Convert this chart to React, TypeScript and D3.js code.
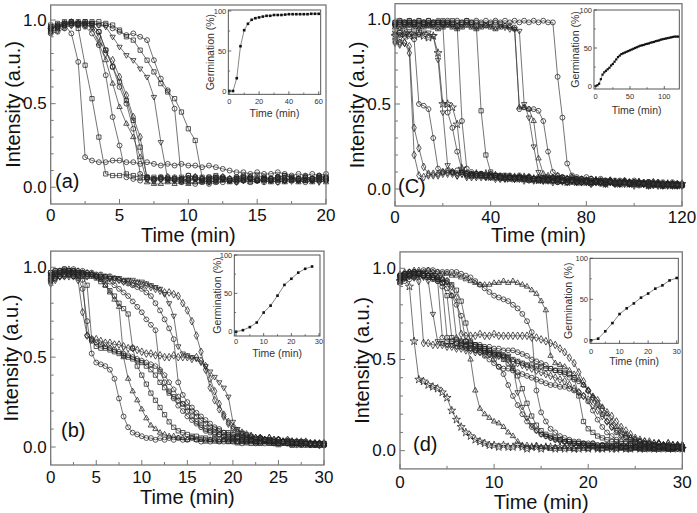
import React from "react";
import * as d3 from "d3";

const FONT = "'Liberation Sans', Arial, Helvetica, sans-serif";

// ---------------- Panel (a): sampling every 0.5 min ----------------
const timeA = d3.range(0, 20.0001, 0.5);
const a1 = [0.95,0.96,0.97,0.92,0.75,0.18,0.16,0.15,0.15,0.16, 0.16,0.15,0.15,0.14,0.15,0.14,0.13,0.14,0.13,0.14, 0.13,0.13,0.12,0.13,0.12,0.11,0.10,0.09,0.09,0.08, 0.09,0.08,0.08,0.09,0.08,0.07,0.08,0.07,0.08,0.07, 0.08];
const a2 = [0.93,0.95,0.97,0.98,0.95,0.73,0.53,0.30,0.08,0.07, 0.07,0.08,0.07,0.06,0.06,0.05,0.06,0.05,0.05,0.04, 0.05,0.05,0.04,0.05,0.06,0.05,0.04,0.05,0.06,0.05, 0.04,0.05,0.05,0.06,0.04,0.05,0.05,0.04,0.05,0.06, 0.05];
const a3 = [0.94,0.96,0.98,0.98,0.97,0.96,0.92,0.85,0.67,0.42, 0.25,0.06,0.05,0.04,0.05,0.04,0.05,0.04,0.04,0.03, 0.04,0.05,0.04,0.03,0.04,0.05,0.04,0.05,0.04,0.05, 0.04,0.03,0.04,0.05,0.04,0.05,0.04,0.03,0.04,0.05, 0.04];
const a4 = [0.96,0.97,0.98,0.99,0.98,0.98,0.95,0.86,0.76,0.62, 0.48,0.38,0.30,0.18,0.03,0.02,0.02,0.03,0.02,0.03, 0.02,0.03,0.03,0.04,0.03,0.04,0.03,0.04,0.04,0.03, 0.04,0.04,0.03,0.04,0.03,0.04,0.03,0.04,0.03,0.04, 0.03];
const a5 = [0.97,0.98,0.99,0.99,0.98,0.99,0.98,0.93,0.82,0.72, 0.63,0.52,0.40,0.24,0.06,0.06,0.05,0.06,0.05,0.06, 0.07,0.06,0.05,0.06,0.07,0.06,0.05,0.06,0.05,0.06, 0.07,0.06,0.05,0.06,0.07,0.06,0.05,0.06,0.05,0.06, 0.06];
const a6 = [0.92,0.93,0.95,0.97,0.97,0.97,0.97,0.93,0.82,0.72, 0.60,0.50,0.35,0.08,0.06,0.05,0.06,0.05,0.06,0.05, 0.07,0.06,0.05,0.06,0.05,0.06,0.05,0.06,0.07,0.06, 0.05,0.06,0.05,0.06,0.07,0.06,0.05,0.06,0.05,0.07, 0.06];
const a7 = [0.95,0.96,0.97,0.98,0.98,0.98,0.98,0.97,0.96,0.90, 0.84,0.79,0.76,0.71,0.66,0.54,0.27,0.05,0.04,0.05, 0.04,0.05,0.04,0.03,0.04,0.05,0.04,0.03,0.04,0.05, 0.04,0.05,0.04,0.03,0.04,0.05,0.04,0.05,0.04,0.03, 0.04];
const a8 = [0.95,0.96,0.97,0.98,0.98,0.98,0.98,0.97,0.97,0.95, 0.93,0.91,0.92,0.90,0.88,0.76,0.65,0.58,0.47,0.05, 0.03,0.02,0.03,0.02,0.03,0.03,0.04,0.03,0.04,0.03, 0.04,0.05,0.04,0.03,0.04,0.05,0.04,0.05,0.04,0.05, 0.04];
const a9 = [0.96,0.97,0.98,0.99,0.99,0.99,0.99,0.99,0.98,0.97, 0.94,0.90,0.88,0.82,0.76,0.69,0.62,0.57,0.53,0.45, 0.35,0.28,0.06,0.05,0.06,0.05,0.04,0.05,0.06,0.05, 0.04,0.05,0.04,0.05,0.06,0.04,0.05,0.04,0.05,0.06, 0.05];
const a10 = [0.93,0.94,0.96,0.97,0.98,0.97,0.96,0.90,0.80,0.76, 0.66,0.55,0.42,0.30,0.05,0.04,0.05,0.06,0.05,0.04, 0.05,0.06,0.05,0.04,0.05,0.06,0.05,0.04,0.05,0.06, 0.05,0.04,0.05,0.06,0.05,0.04,0.05,0.06,0.05,0.04, 0.05];
const seriesA = [a1, a2, a3, a4, a5, a6, a7, a8, a9, a10];
const shapesA = ["circle", "square", "circle", "triangle", "square", "circle", "triangleDown", "circle", "square", "diamond"];
const ticksA = [0, 5, 10, 15, 20];
const insetTimeA = [0,2.5,5,7.5,10,12.5,15,17.5,20,22.5,25,27.5,30,32.5,35,37.5,40,42.5,45,47.5,50,52.5,55,57.5,60];
const insetGermA = [0,0,16,56,76,84,89,91,92,93,94,94,95,95,95,95.5,96,96,96,96,96,96,96.5,96.5,96.5];

// ---------------- Panel (b): sampling every 0.5 min ----------------
const timeB = d3.range(0, 30.0001, 0.5);
const b1 = [0.93,0.95,0.96,0.95,0.96,0.95,0.94,0.88,0.70,0.52, 0.47,0.46,0.45,0.43,0.38,0.27,0.17,0.11,0.08,0.07, 0.06,0.05,0.05,0.04,0.05,0.04,0.05,0.04,0.05,0.04, 0.04,0.05,0.04,0.03,0.04,0.03,0.04,0.03,0.03,0.04, 0.03,0.03,0.02,0.03,0.03,0.02,0.03,0.02,0.03,0.02, 0.02,0.03,0.02,0.02,0.01,0.02,0.02,0.01,0.02,0.02, 0.01];
const b2 = [0.91,0.93,0.95,0.96,0.95,0.96,0.93,0.75,0.62,0.60, 0.60,0.59,0.58,0.58,0.57,0.57,0.56,0.55,0.55,0.54, 0.53,0.52,0.52,0.51,0.51,0.50,0.50,0.51,0.50,0.50, 0.50,0.49,0.50,0.48,0.45,0.38,0.31,0.24,0.18,0.13, 0.10,0.08,0.07,0.06,0.06,0.05,0.05,0.04,0.05,0.04, 0.04,0.03,0.04,0.03,0.03,0.02,0.03,0.02,0.02,0.02, 0.02];
const b3 = [0.97,0.98,0.98,0.99,0.98,0.98,0.97,0.95,0.90,0.60, 0.56,0.55,0.55,0.54,0.53,0.52,0.51,0.50,0.49,0.48, 0.47,0.45,0.43,0.40,0.36,0.33,0.30,0.28,0.26,0.24, 0.22,0.20,0.17,0.15,0.13,0.11,0.10,0.09,0.08,0.08, 0.07,0.06,0.06,0.05,0.05,0.04,0.05,0.04,0.04,0.03, 0.04,0.03,0.03,0.03,0.02,0.03,0.02,0.02,0.02,0.01, 0.02];
const b4 = [0.96,0.97,0.98,0.98,0.99,0.98,0.98,0.97,0.97,0.96, 0.95,0.93,0.90,0.86,0.82,0.78,0.50,0.38,0.31,0.26, 0.21,0.16,0.12,0.10,0.08,0.07,0.06,0.06,0.05,0.05, 0.04,0.05,0.04,0.04,0.03,0.04,0.03,0.03,0.04,0.03, 0.03,0.02,0.03,0.02,0.03,0.02,0.02,0.03,0.02,0.02, 0.01,0.02,0.02,0.01,0.02,0.01,0.02,0.01,0.01,0.02, 0.01];
const b5 = [0.95,0.96,0.97,0.97,0.98,0.97,0.97,0.96,0.95,0.95, 0.94,0.92,0.90,0.87,0.84,0.80,0.77,0.74,0.55,0.45, 0.40,0.35,0.30,0.26,0.22,0.18,0.14,0.11,0.09,0.08, 0.07,0.06,0.06,0.05,0.05,0.04,0.05,0.04,0.04,0.03, 0.04,0.03,0.03,0.03,0.02,0.03,0.02,0.03,0.02,0.02, 0.03,0.02,0.02,0.01,0.02,0.02,0.01,0.02,0.01,0.01, 0.02];
const b6 = [0.94,0.96,0.97,0.98,0.97,0.98,0.97,0.97,0.96,0.96, 0.95,0.94,0.93,0.92,0.90,0.88,0.86,0.84,0.81,0.78, 0.75,0.71,0.68,0.65,0.42,0.36,0.31,0.27,0.23,0.20, 0.17,0.15,0.13,0.11,0.09,0.08,0.07,0.07,0.06,0.05, 0.05,0.05,0.04,0.04,0.04,0.03,0.04,0.03,0.03,0.03, 0.02,0.03,0.02,0.02,0.03,0.02,0.02,0.01,0.02,0.02, 0.01];
const b7 = [0.97,0.98,0.98,0.99,0.98,0.99,0.98,0.98,0.97,0.97, 0.96,0.96,0.95,0.95,0.94,0.93,0.92,0.91,0.90,0.89, 0.88,0.86,0.84,0.80,0.76,0.71,0.66,0.60,0.36,0.29, 0.25,0.22,0.19,0.17,0.15,0.13,0.11,0.10,0.08,0.07, 0.06,0.06,0.05,0.05,0.04,0.04,0.05,0.04,0.04,0.03, 0.04,0.03,0.03,0.02,0.03,0.02,0.03,0.02,0.02,0.02, 0.02];
const b8 = [0.93,0.94,0.95,0.95,0.96,0.95,0.96,0.96,0.95,0.96, 0.95,0.95,0.94,0.94,0.93,0.93,0.92,0.92,0.91,0.91, 0.90,0.90,0.89,0.88,0.87,0.86,0.86,0.85,0.84,0.80, 0.76,0.70,0.62,0.53,0.43,0.33,0.26,0.21,0.17,0.14, 0.11,0.09,0.08,0.07,0.06,0.05,0.05,0.04,0.05,0.04, 0.04,0.03,0.03,0.03,0.02,0.03,0.02,0.02,0.02,0.01, 0.02];
const b9 = [0.96,0.97,0.97,0.98,0.97,0.97,0.96,0.97,0.96,0.96, 0.95,0.95,0.95,0.94,0.94,0.94,0.93,0.93,0.93,0.92, 0.92,0.91,0.90,0.89,0.88,0.85,0.80,0.73,0.56,0.52, 0.51,0.50,0.49,0.47,0.45,0.42,0.39,0.36,0.33,0.28, 0.14,0.10,0.08,0.07,0.06,0.05,0.05,0.04,0.04,0.04, 0.03,0.03,0.04,0.03,0.02,0.03,0.02,0.02,0.02,0.02, 0.01];
const b10 = [0.92,0.94,0.95,0.96,0.96,0.95,0.95,0.93,0.62,0.59, 0.58,0.57,0.56,0.55,0.54,0.53,0.52,0.51,0.50,0.49, 0.48,0.47,0.46,0.45,0.43,0.40,0.36,0.32,0.28,0.24, 0.20,0.17,0.14,0.12,0.10,0.09,0.08,0.07,0.06,0.06, 0.05,0.05,0.04,0.04,0.04,0.03,0.03,0.04,0.03,0.03, 0.02,0.03,0.02,0.02,0.02,0.01,0.02,0.02,0.01,0.02, 0.01];
const seriesB = [b1, b2, b3, b4, b5, b6, b7, b8, b9, b10];
const shapesB = ["circle", "diamond", "square", "triangle", "square", "hexagon", "circle", "diamond", "triangleDown", "pentagon"];
const ticksB = [0, 5, 10, 15, 20, 25, 30];
const insetTimeB = [0,2.5,5,7.5,10,12.5,15,17.5,20,22.5,25,27.5];
const insetGermB = [0,2,6,12,25,34,47,61,69,77,82,85];

// ---------------- Panel (C): sampling every 2 min ----------------
const timeC = d3.range(0, 120.0001, 2);
const c1 = [0.87,0.86,0.86,0.84,0.36,0.24,0.13,0.09,0.08,0.09, 0.10,0.09,0.10,0.08,0.09,0.07,0.08,0.07,0.08,0.07, 0.08,0.07,0.06,0.07,0.07,0.06,0.07,0.06,0.07,0.06, 0.06,0.05,0.06,0.05,0.06,0.05,0.06,0.05,0.05,0.04, 0.05,0.04,0.05,0.04,0.04,0.05,0.04,0.03,0.04,0.04, 0.03,0.04,0.03,0.03,0.04,0.03,0.02,0.03,0.03,0.02, 0.03];
const c2 = [0.91,0.92,0.90,0.91,0.88,0.50,0.49,0.47,0.30,0.12, 0.10,0.11,0.10,0.11,0.10,0.09,0.10,0.09,0.09,0.08, 0.09,0.08,0.08,0.07,0.08,0.07,0.08,0.07,0.07,0.06, 0.07,0.06,0.07,0.06,0.06,0.05,0.06,0.05,0.06,0.05, 0.05,0.04,0.05,0.05,0.04,0.05,0.04,0.04,0.05,0.04, 0.04,0.03,0.04,0.04,0.03,0.04,0.03,0.03,0.04,0.03, 0.02];
const c3 = [0.90,0.89,0.91,0.90,0.90,0.91,0.90,0.89,0.90,0.80, 0.50,0.50,0.48,0.38,0.12,0.09,0.08,0.09,0.08,0.09, 0.07,0.08,0.07,0.07,0.06,0.07,0.06,0.07,0.06,0.06, 0.05,0.06,0.05,0.06,0.05,0.05,0.04,0.05,0.04,0.05, 0.04,0.04,0.05,0.04,0.03,0.04,0.04,0.03,0.04,0.03, 0.03,0.04,0.03,0.02,0.03,0.03,0.02,0.03,0.02,0.02, 0.03];
const c4 = [0.92,0.91,0.92,0.93,0.92,0.91,0.92,0.92,0.90,0.76, 0.45,0.14,0.10,0.09,0.10,0.08,0.09,0.08,0.08,0.07, 0.08,0.07,0.08,0.06,0.07,0.06,0.07,0.06,0.06,0.05, 0.06,0.05,0.06,0.05,0.05,0.04,0.05,0.05,0.04,0.05, 0.04,0.05,0.04,0.04,0.03,0.04,0.04,0.03,0.04,0.03, 0.04,0.03,0.03,0.02,0.03,0.03,0.02,0.03,0.02,0.03, 0.02];
const c5 = [0.97,0.98,0.97,0.98,0.97,0.98,0.97,0.96,0.97,0.98, 0.97,0.45,0.36,0.22,0.11,0.09,0.08,0.09,0.08,0.07, 0.08,0.07,0.06,0.07,0.06,0.07,0.06,0.06,0.05,0.06, 0.05,0.06,0.05,0.05,0.04,0.05,0.04,0.05,0.04,0.04, 0.04,0.03,0.04,0.04,0.03,0.04,0.03,0.03,0.04,0.03, 0.03,0.02,0.03,0.03,0.02,0.03,0.02,0.02,0.03,0.02, 0.02];
const c6 = [0.96,0.97,0.98,0.97,0.98,0.97,0.98,0.97,0.98,0.97, 0.98,0.97,0.97,0.96,0.40,0.12,0.09,0.08,0.09,0.08, 0.07,0.08,0.07,0.06,0.07,0.06,0.07,0.06,0.05,0.06, 0.05,0.06,0.05,0.05,0.04,0.05,0.04,0.05,0.04,0.04, 0.05,0.04,0.04,0.03,0.04,0.04,0.03,0.04,0.03,0.03, 0.04,0.03,0.03,0.02,0.03,0.03,0.02,0.03,0.02,0.02, 0.02];
const c7 = [0.98,0.99,0.98,0.99,0.98,0.99,0.98,0.99,0.98,0.98, 0.99,0.98,0.99,0.98,0.98,0.99,0.98,0.96,0.46,0.20, 0.10,0.08,0.07,0.08,0.07,0.06,0.07,0.06,0.07,0.06, 0.06,0.05,0.06,0.05,0.06,0.05,0.05,0.04,0.05,0.04, 0.05,0.04,0.04,0.05,0.04,0.04,0.03,0.04,0.04,0.03, 0.04,0.03,0.03,0.04,0.03,0.02,0.03,0.03,0.02,0.03, 0.02];
const c8 = [0.95,0.94,0.95,0.96,0.95,0.94,0.95,0.96,0.95,0.94, 0.95,0.96,0.95,0.94,0.95,0.96,0.95,0.94,0.95,0.96, 0.95,0.94,0.95,0.96,0.95,0.94,0.48,0.48,0.47,0.40, 0.18,0.09,0.08,0.07,0.08,0.07,0.06,0.07,0.06,0.06, 0.05,0.06,0.05,0.05,0.04,0.05,0.04,0.04,0.05,0.04, 0.04,0.03,0.04,0.03,0.03,0.04,0.03,0.03,0.02,0.03, 0.03];
const c9 = [0.96,0.95,0.96,0.97,0.96,0.95,0.96,0.97,0.96,0.95, 0.96,0.97,0.96,0.95,0.96,0.97,0.96,0.95,0.96,0.97, 0.96,0.95,0.96,0.95,0.94,0.94,0.93,0.50,0.42,0.25, 0.10,0.07,0.06,0.07,0.06,0.07,0.06,0.05,0.06,0.05, 0.05,0.04,0.05,0.04,0.05,0.04,0.04,0.03,0.04,0.04, 0.03,0.04,0.03,0.03,0.02,0.03,0.03,0.02,0.03,0.02, 0.02];
const c10 = [0.97,0.98,0.97,0.98,0.97,0.96,0.97,0.98,0.97,0.98, 0.97,0.98,0.97,0.96,0.97,0.98,0.97,0.98,0.97,0.96, 0.97,0.98,0.97,0.96,0.96,0.95,0.47,0.48,0.47,0.47, 0.46,0.40,0.22,0.10,0.08,0.07,0.06,0.07,0.06,0.06, 0.05,0.06,0.05,0.04,0.05,0.04,0.05,0.04,0.04,0.03, 0.04,0.04,0.03,0.04,0.03,0.03,0.02,0.03,0.03,0.02, 0.02];
const c11 = [0.98,0.99,0.98,0.99,0.98,0.99,0.98,0.99,0.98,0.99, 0.98,0.99,0.98,0.99,0.98,0.99,0.98,0.99,0.98,0.99, 0.98,0.99,0.98,0.99,0.98,0.99,0.98,0.99,0.98,0.99, 0.98,0.99,0.98,0.98,0.66,0.42,0.15,0.08,0.07,0.06, 0.07,0.06,0.05,0.06,0.05,0.05,0.04,0.05,0.04,0.04, 0.05,0.04,0.03,0.04,0.04,0.03,0.04,0.03,0.03,0.02, 0.03];
const c12 = [0.86,0.85,0.86,0.80,0.20,0.08,0.07,0.08,0.09,0.08, 0.09,0.10,0.09,0.08,0.09,0.08,0.07,0.08,0.07,0.08, 0.07,0.06,0.07,0.06,0.07,0.06,0.06,0.05,0.06,0.05, 0.06,0.05,0.05,0.04,0.05,0.05,0.04,0.05,0.04,0.04, 0.04,0.03,0.04,0.04,0.03,0.04,0.03,0.04,0.03,0.03, 0.02,0.03,0.03,0.02,0.03,0.02,0.03,0.02,0.02,0.03, 0.02];
const seriesC = [c1, c2, c3, c4, c5, c6, c7, c8, c9, c10, c11, c12];
const shapesC = ["diamond", "hexagon", "star", "triangleDown", "circle", "circle", "square", "triangle", "triangleDown", "hexagon", "circle", "diamond"];
const ticksC = [0, 40, 80, 120];
const insetTimeC = [0,2.5,5,7.5,10,12.5,15,17.5,20,22.5,25,27.5,30,32.5,35,37.5,40,42.5,45,47.5,50,52.5,55,57.5,60,62.5,65,67.5,70,72.5,75,77.5,80,82.5,85,87.5,90,92.5,95,97.5,100,102.5,105,107.5,110,112.5,115,117.5,120];
const insetGermC = [0,1,3,9,15,18,20,22,24,27,29,32,35,38,40,42,43,44,45,46,47,48,49,50,51,52,53,53.5,54,55,55.5,56,57,57.5,58,59,59.5,60,61,61.5,62,62.5,63,63.5,64,64.5,65,65,65];

// ---------------- Panel (d): sampling every 0.5 min ----------------
const timeD = d3.range(0, 30.0001, 0.5);
const d1 = [0.93,0.95,0.90,0.60,0.39,0.38,0.36,0.35,0.34,0.32, 0.29,0.22,0.17,0.13,0.10,0.08,0.06,0.05,0.04,0.03, 0.03,0.02,0.03,0.02,0.02,0.03,0.02,0.01,0.02,0.02, 0.01,0.02,0.02,0.01,0.02,0.01,0.02,0.01,0.01,0.02, 0.01,0.02,0.01,0.01,0.02,0.01,0.01,0.02,0.01,0.01, 0.02,0.01,0.01,0.02,0.01,0.01,0.02,0.01,0.01,0.02, 0.01];
const d2 = [0.94,0.95,0.96,0.95,0.93,0.59,0.59,0.58,0.58,0.58, 0.57,0.57,0.56,0.56,0.55,0.55,0.54,0.54,0.53,0.53, 0.52,0.52,0.51,0.50,0.49,0.48,0.47,0.46,0.45,0.44, 0.43,0.42,0.41,0.40,0.39,0.38,0.36,0.34,0.32,0.30, 0.28,0.25,0.22,0.19,0.16,0.13,0.11,0.09,0.08,0.07, 0.06,0.05,0.05,0.04,0.04,0.04,0.03,0.04,0.03,0.03, 0.03];
const d3v = [0.96,0.97,0.97,0.96,0.96,0.95,0.93,0.75,0.60,0.59, 0.58,0.58,0.57,0.57,0.56,0.56,0.55,0.55,0.54,0.54, 0.53,0.53,0.52,0.52,0.46,0.32,0.24,0.18,0.14,0.11, 0.09,0.08,0.07,0.06,0.05,0.05,0.04,0.04,0.03,0.04, 0.03,0.03,0.02,0.03,0.02,0.02,0.03,0.02,0.02,0.01, 0.02,0.02,0.01,0.02,0.01,0.01,0.02,0.01,0.01,0.01, 0.01];
const d4 = [0.95,0.96,0.97,0.98,0.97,0.97,0.96,0.95,0.93,0.62, 0.60,0.60,0.59,0.59,0.58,0.58,0.57,0.56,0.55,0.53, 0.50,0.46,0.42,0.36,0.30,0.25,0.20,0.16,0.13,0.11, 0.09,0.08,0.07,0.06,0.06,0.05,0.05,0.04,0.04,0.04, 0.03,0.04,0.03,0.03,0.03,0.02,0.03,0.02,0.02,0.03, 0.02,0.02,0.02,0.01,0.02,0.02,0.01,0.02,0.01,0.02, 0.02];
const d5 = [0.93,0.95,0.96,0.97,0.97,0.96,0.96,0.95,0.94,0.92, 0.85,0.62,0.61,0.60,0.60,0.59,0.58,0.57,0.56,0.55, 0.53,0.52,0.50,0.48,0.45,0.41,0.34,0.26,0.19,0.14, 0.11,0.09,0.08,0.07,0.06,0.05,0.05,0.04,0.04,0.03, 0.03,0.03,0.02,0.03,0.02,0.03,0.02,0.02,0.01,0.02, 0.02,0.01,0.02,0.01,0.01,0.02,0.01,0.01,0.02,0.01, 0.01];
const d6 = [0.96,0.97,0.98,0.98,0.97,0.97,0.96,0.96,0.95,0.94, 0.92,0.85,0.62,0.60,0.58,0.50,0.33,0.23,0.20,0.18, 0.16,0.15,0.13,0.10,0.08,0.05,0.03,0.03,0.02,0.03, 0.02,0.02,0.01,0.02,0.01,0.02,0.01,0.01,0.02,0.01, 0.01,0.02,0.01,0.01,0.01,0.02,0.01,0.01,0.02,0.01, 0.01,0.01,0.02,0.01,0.01,0.02,0.01,0.01,0.01,0.02, 0.01];
const d7 = [0.94,0.95,0.96,0.96,0.97,0.96,0.96,0.95,0.95,0.94, 0.93,0.90,0.84,0.64,0.63,0.63,0.63,0.64,0.63,0.63, 0.64,0.63,0.63,0.63,0.63,0.63,0.63,0.63,0.62,0.62, 0.61,0.60,0.59,0.58,0.56,0.54,0.51,0.48,0.43,0.38, 0.33,0.29,0.26,0.23,0.21,0.19,0.16,0.13,0.11,0.09, 0.07,0.06,0.05,0.05,0.04,0.04,0.03,0.04,0.03,0.03, 0.03];
const d8 = [0.97,0.98,0.98,0.99,0.99,0.98,0.99,0.98,0.98,0.97, 0.97,0.96,0.96,0.95,0.94,0.93,0.92,0.91,0.91,0.91, 0.92,0.92,0.93,0.92,0.93,0.92,0.91,0.90,0.88,0.86, 0.82,0.77,0.52,0.48,0.47,0.46,0.44,0.42,0.39,0.36, 0.33,0.30,0.28,0.24,0.20,0.16,0.13,0.11,0.09,0.07, 0.06,0.05,0.04,0.04,0.03,0.04,0.03,0.03,0.03,0.02, 0.03];
const d9 = [0.96,0.97,0.97,0.98,0.98,0.99,0.99,0.99,0.98,0.98, 0.98,0.98,0.98,0.97,0.96,0.95,0.93,0.91,0.89,0.87, 0.85,0.84,0.83,0.82,0.80,0.78,0.75,0.71,0.65,0.33, 0.21,0.16,0.12,0.10,0.08,0.07,0.06,0.05,0.05,0.04, 0.04,0.04,0.03,0.03,0.03,0.02,0.03,0.02,0.02,0.03, 0.02,0.02,0.01,0.02,0.02,0.01,0.02,0.01,0.02,0.01, 0.01];
const d10 = [0.92,0.93,0.94,0.95,0.95,0.96,0.96,0.95,0.94,0.92, 0.89,0.85,0.80,0.74,0.60,0.59,0.58,0.58,0.57,0.57, 0.56,0.56,0.55,0.55,0.55,0.54,0.53,0.52,0.50,0.49, 0.48,0.47,0.45,0.44,0.43,0.42,0.40,0.39,0.38,0.36, 0.33,0.29,0.25,0.20,0.16,0.13,0.10,0.08,0.07,0.06, 0.05,0.05,0.04,0.04,0.03,0.04,0.03,0.03,0.02,0.03, 0.02];
const d11 = [0.95,0.96,0.96,0.97,0.97,0.96,0.96,0.96,0.95,0.94, 0.93,0.91,0.88,0.82,0.70,0.60,0.58,0.57,0.56,0.55, 0.54,0.53,0.52,0.51,0.50,0.49,0.48,0.47,0.47,0.46, 0.46,0.45,0.45,0.44,0.44,0.43,0.42,0.40,0.30,0.16, 0.12,0.10,0.08,0.07,0.06,0.05,0.05,0.04,0.04,0.04, 0.03,0.03,0.03,0.02,0.03,0.02,0.02,0.02,0.01,0.02, 0.02];
const d12 = [0.96,0.97,0.98,0.97,0.97,0.96,0.95,0.94,0.93,0.90, 0.62,0.60,0.59,0.58,0.57,0.56,0.55,0.54,0.52,0.50, 0.48,0.46,0.45,0.45,0.44,0.43,0.42,0.41,0.40,0.39, 0.38,0.37,0.36,0.36,0.35,0.35,0.34,0.33,0.32,0.30, 0.27,0.22,0.17,0.13,0.10,0.08,0.06,0.05,0.05,0.04, 0.04,0.03,0.04,0.03,0.03,0.02,0.03,0.02,0.02,0.02, 0.02];
const seriesD = [d1, d2, d3v, d4, d5, d6, d7, d8, d9, d10, d11, d12];
const shapesD = ["star", "diamond", "triangleDown", "hexagon", "square", "triangle", "diamond", "triangle", "circle", "hexagon", "square", "circle"];
const ticksD = [0, 10, 20, 30];
const insetTimeD = [0,2.5,5,7.5,10,12.5,15,17.5,20,22.5,25,27.5,30];
const insetGermD = [0,2,11,21,32,39,45,52,57,63,67,73,76];

// ---------------- drawing helpers ----------------
function polygon(n: number, r: number, rot: number): string {
  const pts = d3.range(n).map((k) => {
    const a = rot + (2 * Math.PI * k) / n;
    return [r * Math.cos(a), r * Math.sin(a)];
  });
  return "M" + pts.map((p) => p[0].toFixed(2) + "," + p[1].toFixed(2)).join("L") + "Z";
}

const markerPaths: Record<string, string> = {
  circle: d3.symbol(d3.symbolCircle, 19)() as string,
  square: d3.symbol(d3.symbolSquare, 18)() as string,
  diamond: d3.symbol(d3.symbolDiamond, 17)() as string,
  star: d3.symbol(d3.symbolStar, 20)() as string,
  triangle: polygon(3, 3.1, -Math.PI / 2),
  triangleDown: polygon(3, 3.1, Math.PI / 2),
  hexagon: polygon(6, 2.6, 0),
  pentagon: polygon(5, 2.7, -Math.PI / 2),
};

type PanelProps = {
  times: number[];
  series: number[][];
  shapes: string[];
  xMax: number;
  left: number;
  right: number;
  top: number;
  bottom: number;
  xTicks: number[];
  xMinorStep: number;
  tickLabelY: number;
  titleY: number;
  yTitleX: number;
  tag: string;
  tagX: number;
  tagY: number;
};

function Panel(p: PanelProps) {
  const x = d3.scaleLinear().domain([0, p.xMax]).range([p.left, p.right]);
  const y = d3.scaleLinear().domain([-0.1, 1.09]).range([p.bottom, p.top]);
  const minorX = d3.range(0, p.xMax + 1e-6, p.xMinorStep).filter((v) => !p.xTicks.includes(v));
  const minorY = d3.range(0.1, 1.0, 0.1).filter((v) => Math.abs(v - 0.5) > 1e-6);
  const line = d3
    .line<number>()
    .x((_, i) => x(p.times[i]))
    .y((v) => y(v));
  const frame = "#777";
  return (
    <g>
      {p.series.map((s, si) => (
        <g key={si}>
          <path d={line(s) as string} fill="none" stroke="#3a3a3a" strokeWidth={0.7} />
          {s.map((v, i) => (
            <path
              key={i}
              d={markerPaths[p.shapes[si]]}
              transform={`translate(${x(p.times[i]).toFixed(2)},${y(v).toFixed(2)})`}
              fill="none"
              stroke="#222"
              strokeWidth={0.75}
            />
          ))}
        </g>
      ))}
      <rect x={p.left} y={p.top} width={p.right - p.left} height={p.bottom - p.top} fill="none" stroke={frame} strokeWidth={1.3} />
      {p.xTicks.map((t) => (
        <g key={"xt" + t}>
          <line x1={x(t)} x2={x(t)} y1={p.bottom} y2={p.bottom - 5} stroke={frame} strokeWidth={1} />
          <text x={x(t)} y={p.tickLabelY} textAnchor="middle" dominantBaseline="central" fontSize={17} fontFamily={FONT} fill="#111">
            {t}
          </text>
        </g>
      ))}
      {minorX.map((t) => (
        <line key={"xm" + t} x1={x(t)} x2={x(t)} y1={p.bottom} y2={p.bottom - 3} stroke={frame} strokeWidth={1} />
      ))}
      {[0, 0.5, 1].map((t) => (
        <g key={"yt" + t}>
          <line x1={p.left} x2={p.left + 5} y1={y(t)} y2={y(t)} stroke={frame} strokeWidth={1} />
          <text x={p.left - 4} y={y(t)} textAnchor="end" dominantBaseline="central" fontSize={17} fontFamily={FONT} fill="#111">
            {t.toFixed(1)}
          </text>
        </g>
      ))}
      {minorY.map((t) => (
        <line key={"ym" + t} x1={p.left} x2={p.left + 3} y1={y(t)} y2={y(t)} stroke={frame} strokeWidth={1} />
      ))}
      <text x={(p.left + p.right) / 2} y={p.titleY} textAnchor="middle" dominantBaseline="central" fontSize={20} fontFamily={FONT} fill="#111">
        Time (min)
      </text>
      <text
        transform={`translate(${p.yTitleX},${(p.top + p.bottom) / 2}) rotate(-90)`}
        textAnchor="middle"
        dominantBaseline="central"
        fontSize={20}
        fontFamily={FONT}
        fill="#111"
      >
        Intensity (a.u.)
      </text>
      <text x={p.tagX} y={p.tagY} fontSize={20} fontFamily={FONT} fill="#111">
        {p.tag}
      </text>
    </g>
  );
}

type InsetProps = {
  times: number[];
  values: number[];
  xMax: number;
  xTicks: number[];
  x0: number;
  x1: number;
  y0: number;
  y100: number;
  frame: [number, number, number, number];
  tickLabelY: number;
  titleY: number;
  yTitleX: number;
  markerSize: number;
};

function Inset(p: InsetProps) {
  const x = d3.scaleLinear().domain([0, p.xMax]).range([p.x0, p.x1]);
  const y = d3.scaleLinear().domain([0, 100]).range([p.y0, p.y100]);
  const [fl, ft, fr, fb] = p.frame;
  const line = d3
    .line<number>()
    .x((_, i) => x(p.times[i]))
    .y((v) => y(v));
  const ms = p.markerSize;
  const minorX = p.xTicks.slice(0, -1).map((t, i) => (t + p.xTicks[i + 1]) / 2);
  return (
    <g>
      <rect x={fl} y={ft} width={fr - fl} height={fb - ft} fill="#fff" stroke="#444" strokeWidth={0.9} />
      <path d={line(p.values) as string} fill="none" stroke="#555" strokeWidth={0.7} />
      {p.values.map((v, i) => (
        <rect key={i} x={x(p.times[i]) - ms / 2} y={y(v) - ms / 2} width={ms} height={ms} fill="#111" />
      ))}
      {p.xTicks.map((t) => (
        <g key={"x" + t}>
          <line x1={x(t)} x2={x(t)} y1={fb} y2={fb - 3} stroke="#444" strokeWidth={0.8} />
          <text x={x(t)} y={p.tickLabelY} textAnchor="middle" dominantBaseline="central" fontSize={7.5} fontFamily={FONT} fill="#333">
            {t}
          </text>
        </g>
      ))}
      {minorX.map((t) => (
        <line key={"xm" + t} x1={x(t)} x2={x(t)} y1={fb} y2={fb - 1.8} stroke="#444" strokeWidth={0.7} />
      ))}
      {[0, 50, 100].map((t) => (
        <g key={"y" + t}>
          <line x1={fl} x2={fl + 3} y1={y(t)} y2={y(t)} stroke="#444" strokeWidth={0.8} />
          <text x={fl - 2} y={y(t)} textAnchor="end" dominantBaseline="central" fontSize={7.5} fontFamily={FONT} fill="#333">
            {t}
          </text>
        </g>
      ))}
      {[25, 75].map((t) => (
        <line key={"ym" + t} x1={fl} x2={fl + 1.8} y1={y(t)} y2={y(t)} stroke="#444" strokeWidth={0.7} />
      ))}
      <text x={(fl + fr) / 2} y={p.titleY} textAnchor="middle" dominantBaseline="central" fontSize={10.5} fontFamily={FONT} fill="#333">
        Time (min)
      </text>
      <text
        transform={`translate(${p.yTitleX},${(ft + fb) / 2}) rotate(-90)`}
        textAnchor="middle"
        dominantBaseline="central"
        fontSize={10.5}
        fontFamily={FONT}
        fill="#333"
      >
        Germination (%)
      </text>
    </g>
  );
}

export default function App() {
  return (
    <svg width={697} height={513} style={{ position: "absolute", left: 0, top: 0, background: "#fff" }}>
      <rect x={0} y={0} width={697} height={513} fill="#fff" />
      <Panel times={timeA} series={seriesA} shapes={shapesA} xMax={20} left={50.7} right={326} top={5} bottom={204}
        xTicks={ticksA} xMinorStep={2.5} tickLabelY={215} titleY={235} yTitleX={13} tag="(a)" tagX={55} tagY={188} />
      <Panel times={timeC} series={seriesC} shapes={shapesC} xMax={120} left={395} right={682} top={3.7} bottom={206}
        xTicks={ticksC} xMinorStep={20} tickLabelY={217} titleY={235} yTitleX={357} tag="(C)" tagX={398} tagY={193} />
      <Panel times={timeB} series={seriesB} shapes={shapesB} xMax={30} left={50.7} right={324} top={251.1} bottom={465}
        xTicks={ticksB} xMinorStep={2.5} tickLabelY={477} titleY={497} yTitleX={11} tag="(b)" tagX={61} tagY={437} />
      <Panel times={timeD} series={seriesD} shapes={shapesD} xMax={30} left={400} right={682.3} top={251.9} bottom={468.9}
        xTicks={ticksD} xMinorStep={5} tickLabelY={482} titleY={502} yTitleX={362} tag="(d)" tagX={413} tagY={451} />
      <Inset times={insetTimeA} values={insetGermA} xMax={60} xTicks={[0, 20, 40, 60]} x0={229.3} x1={318.7} y0={91} y100={11}
        frame={[228.3, 10, 320.7, 94.3]} tickLabelY={101.7} titleY={113} yTitleX={210} markerSize={2.6} />
      <Inset times={insetTimeB} values={insetGermB} xMax={30} xTicks={[0, 10, 20, 30]} x0={236} x1={319} y0={331.7} y100={255}
        frame={[234.3, 255, 320, 336]} tickLabelY={341.7} titleY={353} yTitleX={216.7} markerSize={2.6} />
      <Inset times={insetTimeC} values={insetGermC} xMax={120} xTicks={[0, 50, 100]} x0={595.7} x1={664.3 + 13.7} y0={86} y100={10}
        frame={[594, 10, 679.3, 89]} tickLabelY={96.7} titleY={110} yTitleX={575} markerSize={2.2} />
      <Inset times={insetTimeD} values={insetGermD} xMax={30} xTicks={[0, 10, 20, 30]} x0={591} x1={676.7} y0={340.3} y100={258.3}
        frame={[590, 258.3, 678.3, 343.3]} tickLabelY={351.7} titleY={361} yTitleX={568} markerSize={2.6} />
    </svg>
  );
}
